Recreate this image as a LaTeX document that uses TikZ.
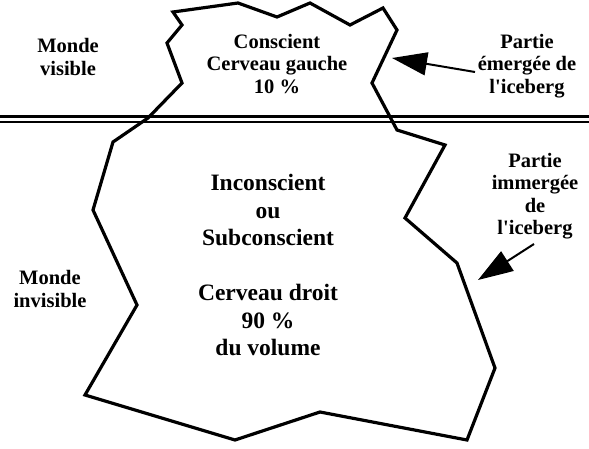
\documentclass[tikz,border=0pt]{standalone}
\usepackage{fontspec}
\setmainfont{Liberation Serif}
\usetikzlibrary{arrows.meta}
\begin{document}
\begin{tikzpicture}[x=1pt,y=-1pt,
  lbl/.style={font=\bfseries\fontsize{20.5}{22.5}\selectfont, align=center, inner sep=0pt},
  big/.style={font=\bfseries\fontsize{23.5}{27.5}\selectfont, align=center, inner sep=0pt},
  ice/.style={line width=3.2pt, line join=miter},
  water/.style={line width=#1},
  pointer/.style={line width=2pt, -{Triangle[length=35pt,width=23pt]}}]
\useasboundingbox (0,0) rectangle (589,449);

% iceberg outline
\draw[ice] (173,12) -- (238,3) -- (277,17) -- (310,3) -- (350,25) -- (383,8)
  -- (397,30) -- (372,83) -- (397,130) -- (445,145) -- (405,218) -- (457,263)
  -- (495,368) -- (467,440) -- (320,412) -- (235,440) -- (85,395) -- (137,305)
  -- (93,210) -- (113,142) -- (148,118) -- (182,83) -- (167,43) -- (182,25) -- cycle;

% water line
\coordinate (wl1) at (0,117);
\coordinate (wr1) at (589,117);
\coordinate (wl2) at (0,122);
\coordinate (wr2) at (589,122);
\draw[water=3pt] (wl1) -- (wr1);
\draw[water=1.7pt] (wl2) -- (wr2);

% labels
\node[lbl] (mv) at (68,57) {Monde\\visible};
\node[lbl] (cons) at (277,64) {Conscient\\Cerveau gauche\\10 \%};
\node[lbl] (pe) at (527,66) {Partie\\émergée de\\l\textquotesingle iceberg};
\node[big] (incons) at (268,265) {Inconscient\\ou\\Subconscient\\[27.5pt]Cerveau droit\\90 \%\\du volume};
\node[lbl] (pi) at (535,196) {Partie\\immergée\\de\\l\textquotesingle iceberg};
\node[lbl] (mi) at (50,289) {Monde\\invisible};

% arrows
\coordinate (a1s) at (475,72);
\coordinate (a1t) at (392,58);
\coordinate (a2s) at (534,244);
\coordinate (a2t) at (478,280);
\draw[pointer] (a1s) -- (a1t);
\draw[pointer] (a2s) -- (a2t);
\end{tikzpicture}
\end{document}
